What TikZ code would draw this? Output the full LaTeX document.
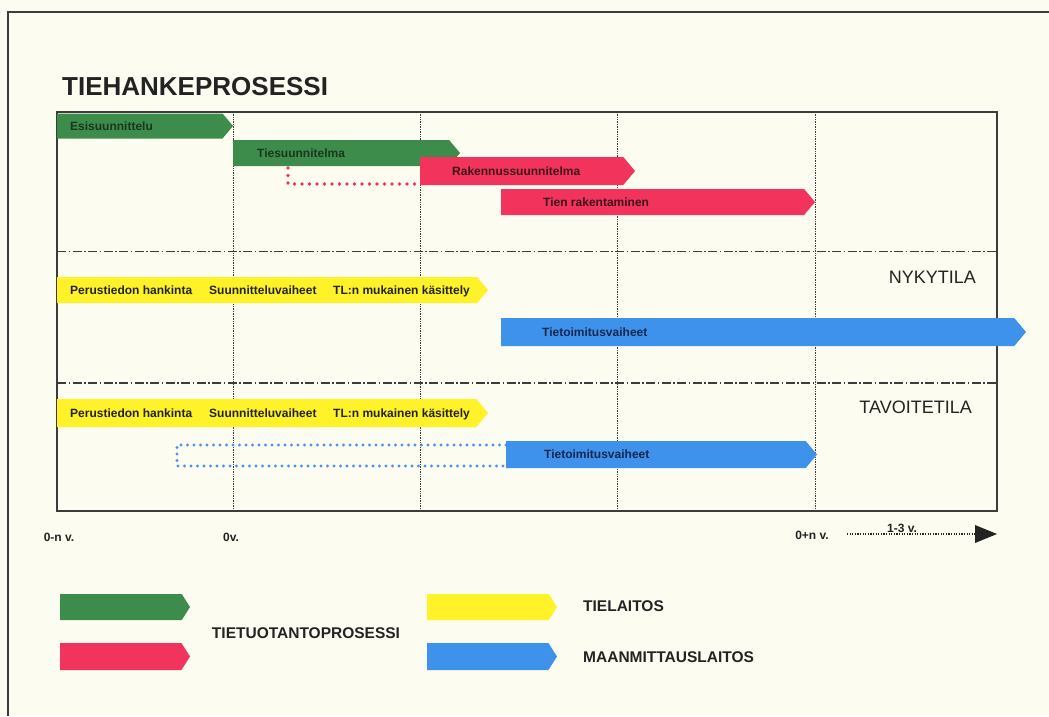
\documentclass[tikz,border=0pt]{standalone}
\usepackage{fontspec}
\setmainfont{Liberation Sans}
\usetikzlibrary{shapes.symbols}
\definecolor{bg}{RGB}{252,252,240}
\definecolor{grn}{RGB}{62,140,76}
\definecolor{rd}{RGB}{242,52,92}
\definecolor{yl}{RGB}{255,242,40}
\definecolor{bl}{RGB}{62,146,236}
\definecolor{bldot}{RGB}{70,150,235}
\definecolor{ln}{RGB}{60,60,60}
\definecolor{txt}{RGB}{35,35,35}
\definecolor{gtxt}{RGB}{25,55,30}
\definecolor{rtxt}{RGB}{60,20,25}
\definecolor{btxt}{RGB}{20,40,80}
\begin{document}
\begin{tikzpicture}[x=1pt,y=-1pt,
  bar/.style={signal, signal to=east, signal from=nothing, signal pointer angle=100,
    inner sep=0pt, outer sep=0pt, draw=none, fill=#1, anchor=west},
  bt/.style={inner sep=0pt, anchor=west, text height=8.6pt, text depth=0pt,
    font=\bfseries\fontsize{12}{14}\selectfont, text=#1},
  bt/.default=txt,
  frame/.style={draw=ln, line width=1.2pt},
  grid/.style={draw=ln, line width=0.7pt, dash pattern=on 0.8pt off 0.9pt},
  dashdot/.style={draw=ln, line width=1.3pt, dash pattern=on 9pt off 2.5pt on 1.5pt off 2.5pt},
  reddots/.style={draw=rd, line width=3.6pt, line cap=round, dash pattern=on 0pt off 7.5pt},
  bluedots/.style={draw=bldot, line width=3.2pt, line cap=round, dash pattern=on 0pt off 6.5pt},
  axl/.style={inner sep=0pt, text=txt, font=\bfseries\fontsize{12}{14}\selectfont},
  leg/.style={inner sep=0pt, anchor=west, text=txt, font=\bfseries\fontsize{15.5}{18}\selectfont},
  state/.style={inner sep=0pt, anchor=east, text=txt, font=\fontsize{18}{21}\selectfont}
]
\useasboundingbox (0,0) rectangle (1049,716);
\fill[bg] (0,0) rectangle (1049,716);
% outer frame
\draw[frame] (1049,12) -- (8,12) -- (8,716);
% title
\node[inner sep=0pt, anchor=base west, text=txt, font=\bfseries\fontsize{26}{30}\selectfont] (title) at (62,95) {TIEHANKEPROSESSI};
% grid
\foreach \x in {233,420,617,815} \draw[grid] (\x,112) -- (\x,511);
\draw[dashdot] (57,251.5) -- (997,251.5);
\draw[dashdot] (57,383) -- (997,383);
\draw[frame, line width=1.2pt] (57,112) rectangle (997,511);

% dotted connectors
\coordinate (rdtop) at (288,168);
\coordinate (bdt) at (177,445);
\coordinate (bdb) at (177,466);

% bars
\node[bar=grn, minimum width=176pt, minimum height=25pt] (esi) at (57,126) {};
\node[bar=grn, minimum width=227pt, minimum height=26pt] (ties) at (233,153) {};
\draw[reddots] (rdtop) |- (420,184);
\node[bar=rd, minimum width=215pt, minimum height=28pt] (rak) at (420,171) {};
\node[bar=rd, minimum width=314pt, minimum height=26pt] (tien) at (501,202) {};
\node[bar=yl, minimum width=431pt, minimum height=26pt] (yel1) at (57,290) {};
\node[bar=bl, minimum width=525pt, minimum height=28pt] (blu1) at (501,332) {};
\node[bar=yl, minimum width=431pt, minimum height=28pt] (yel2) at (57,413) {};
\draw[bluedots] (bdt -| 506,0) -- (bdt) -- (bdb) -- (bdb -| 506,0);
\node[bar=bl, minimum width=311pt, minimum height=27pt] (blu2) at (506,454.5) {};

% bar texts
\node[bt=gtxt] (tesi) at (70,126) {Esisuunnittelu};
\node[bt=gtxt] (ttie) at (257,153) {Tiesuunnitelma};
\node[bt=rtxt] (trak) at (452,171) {Rakennussuunnitelma};
\node[bt=rtxt] (ttien) at (543,202) {Tien rakentaminen};
\node[bt] (p1) at (70,290) {Perustiedon hankinta};
\node[bt] (s1) at (209,290) {Suunnitteluvaiheet};
\node[bt] (k1) at (333,290) {TL:n mukainen käsittely};
\node[bt=btxt] (tt1) at (542,332) {Tietoimitusvaiheet};
\node[bt] (p2) at (70,413) {Perustiedon hankinta};
\node[bt] (s2) at (209,413) {Suunnitteluvaiheet};
\node[bt] (k2) at (333,413) {TL:n mukainen käsittely};
\node[bt=btxt] (tt2) at (544,454) {Tietoimitusvaiheet};

% states
\node[state] (nyk) at (976,277) {NYKYTILA};
\node[state] (tav) at (972,407) {TAVOITETILA};

% axis labels
\node[axl] (a0) at (59,537) {0-n v.};
\node[axl] (a1) at (231,537) {0v.};
\node[axl] (a2) at (812,535) {0+n v.};
\coordinate (arrs) at (847,534);
\coordinate (arre) at (976,534);
\draw[draw=txt, line width=1.6pt, dash pattern=on 1.2pt off 1.4pt] (arrs) -- (arre);
\fill[txt] (975,525) -- (997,534) -- (975,543) -- cycle;
\node[axl, anchor=base] (a3) at (902,532) {1-3 v.};

% legend
\node[bar=grn, minimum width=130pt, minimum height=26pt, signal pointer angle=115] (lg) at (60,607) {};
\node[bar=rd, minimum width=130pt, minimum height=27pt, signal pointer angle=115] (lr) at (60,656.5) {};
\node[bar=yl, minimum width=130pt, minimum height=26pt, signal pointer angle=115] (ly) at (427,607) {};
\node[bar=bl, minimum width=130pt, minimum height=27pt, signal pointer angle=115] (lb) at (427,656.5) {};
\node[leg, anchor=center] (ltp) at (306,633) {TIETUOTANTOPROSESSI};
\node[leg] (ltl) at (583,606) {TIELAITOS};
\node[leg] (lml) at (583,657) {MAANMITTAUSLAITOS};
\end{tikzpicture}
\end{document}
